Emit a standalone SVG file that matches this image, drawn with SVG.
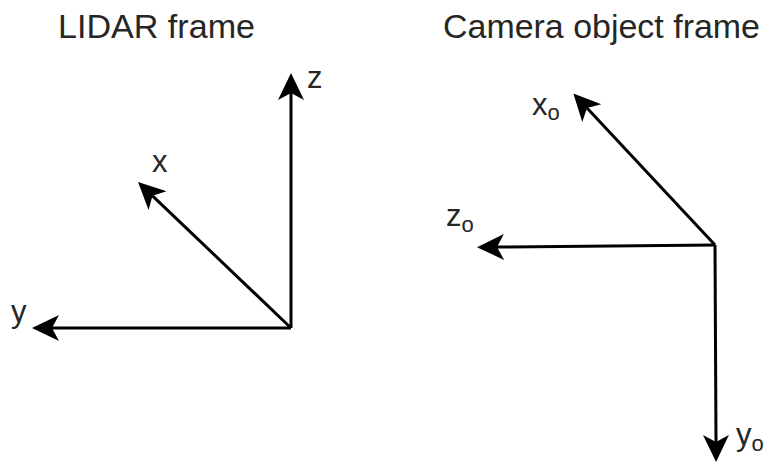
<svg xmlns="http://www.w3.org/2000/svg" width="774" height="465" viewBox="0 0 774 465">
<style>
.t{font-family:"Liberation Sans",Arial,sans-serif;fill:#262626;}
.ax{stroke:#000;stroke-width:3;fill:none;marker-end:url(#ah);}
</style>
<defs>
<marker id="ah" markerUnits="userSpaceOnUse" markerWidth="32" markerHeight="32" viewBox="0 0 32 32" refX="7" refY="14" orient="auto">
<path d="M27,14 L0,1 L7,14 L0,27 Z" fill="#000"/>
</marker>
</defs>
<rect width="774" height="465" fill="#fff"/>
<g id="lidar-title"><text class="t" x="58" y="38" font-size="34" textLength="197" lengthAdjust="spacingAndGlyphs">LIDAR frame</text></g>
<g id="camera-title"><text class="t" x="443" y="38" font-size="34" textLength="317" lengthAdjust="spacingAndGlyphs">Camera object frame</text></g>
<g id="connectors">
<line class="ax" x1="291" y1="328" x2="291" y2="93"/>
<line class="ax" x1="291" y1="328" x2="152.5" y2="195.8"/>
<line class="ax" x1="291" y1="328" x2="52" y2="328"/>
<line class="ax" x1="715" y1="245" x2="587" y2="108"/>
<line class="ax" x1="715" y1="245" x2="497" y2="247"/>
<line class="ax" x1="715" y1="245" x2="716" y2="442"/>
</g>
<g id="lidar-labels">
<text class="t" x="307" y="88" font-size="31">z</text>
<text class="t" x="152" y="172" font-size="31">x</text>
<text class="t" x="11" y="322" font-size="31">y</text>
</g>
<g id="camera-labels">
<text class="t" x="532" y="115" font-size="31">x<tspan font-size="22" dy="5">o</tspan></text>
<text class="t" x="446" y="226" font-size="31">z<tspan font-size="22" dy="6">o</tspan></text>
<text class="t" x="736" y="445" font-size="31">y<tspan font-size="22" dy="6">o</tspan></text>
</g>
</svg>
